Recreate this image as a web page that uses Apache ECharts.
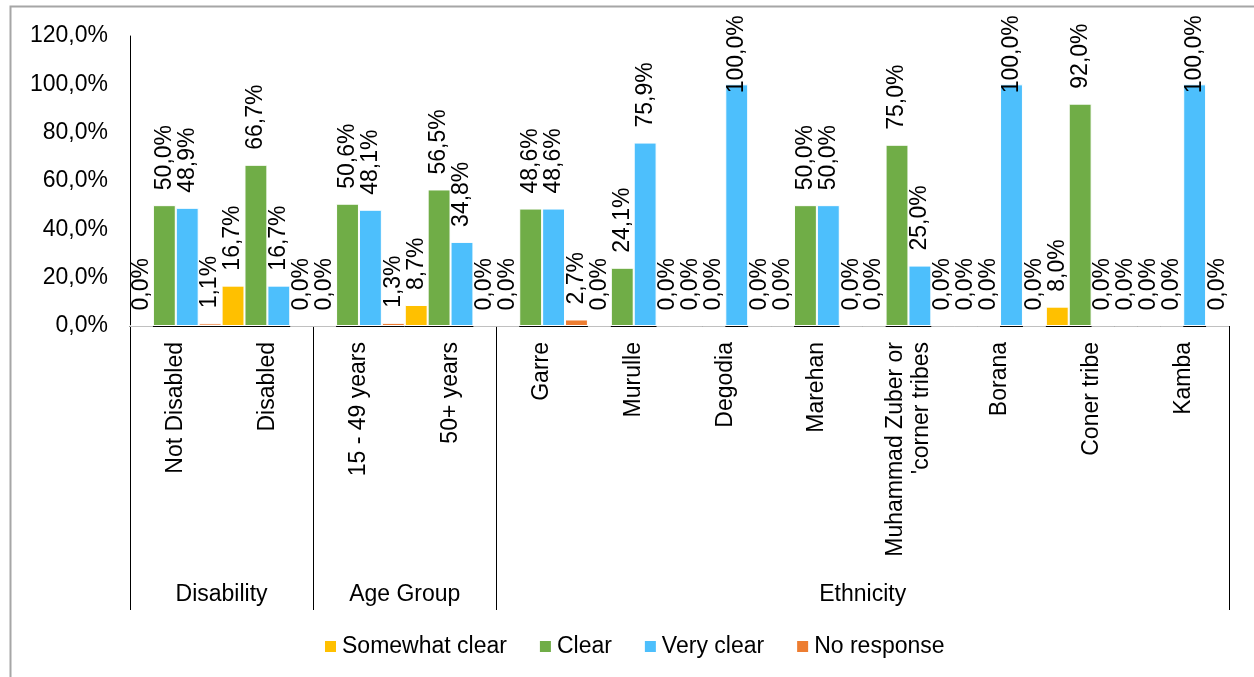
<!DOCTYPE html>
<html>
<head>
<meta charset="utf-8">
<script src="https://cdn.jsdelivr.net/npm/echarts@6/dist/echarts.min.js"></script>
<style>
    html, body { margin: 0; padding: 0; background: #fff; }
    #chart { width: 1254px; height: 677px; }
</style>
</head>
<body>
<div id="chart"></div>
<script>
// categories and their groups
var categories = ['Not Disabled', 'Disabled', '15 - 49 years', '50+ years', 'Garre', 'Murulle', 'Degodia',
    'Marehan', "Muhammad Zuber or\n'corner tribes", 'Borana', 'Coner tribe', 'Kamba'];
var groups = ['Disability', 'Age Group', 'Ethnicity'];
var groupSizes = [2, 2, 8];

var seriesNames = ['Somewhat clear', 'Clear', 'Very clear', 'No response'];
var somewhatClear = [0.0, 16.7, 0.0, 8.7, 0.0, 0.0, 0.0, 0.0, 0.0, 0.0, 8.0, 0.0];
var clear = [50.0, 66.7, 50.6, 56.5, 48.6, 24.1, 0.0, 50.0, 75.0, 0.0, 92.0, 0.0];
var veryClear = [48.9, 16.7, 48.1, 34.8, 48.6, 75.9, 100.0, 50.0, 25.0, 100.0, 0.0, 100.0];
var noResponse = [1.1, 0.0, 1.3, 0.0, 2.7, 0.0, 0.0, 0.0, 0.0, 0.0, 0.0, 0.0];

var yTicks = [0, 20, 40, 60, 80, 100, 120];

var colors = ['#FFC000', '#70AD47', '#4DBFFC', '#ED7D31'];
var font = 'Liberation Sans, Arial, sans-serif';

function pct(v) {
    return v.toFixed(1).replace('.', ',') + '%';
}

// group boundaries and centres in category units
var bounds = [0];
var centres = [];
groupSizes.forEach(function (n) {
    var start = bounds[bounds.length - 1];
    centres.push(start + n / 2);
    bounds.push(start + n);
});

function makeSeries(name, values) {
    return {
        name: name,
        type: 'bar',
        xAxisIndex: 0,
        barGap: 0,
        barCategoryGap: 0,
        itemStyle: { borderColor: '#fff', borderWidth: 1 },
        label: {
            show: true,
            position: 'top',
            rotate: 90,
            align: 'left',
            verticalAlign: 'middle',
            distance: 15,
            fontFamily: font,
            fontSize: 23,
            color: '#000',
            formatter: function (p) { return pct(p.value); }
        },
        data: values.map(function (v) {
            // labels that would leave the chart area get pushed down, like Excel does
            return v >= 99 ? { value: v, label: { distance: -9 } } : v;
        })
    };
}

var chart = echarts.init(document.getElementById('chart'));
var option = {
    animation: false,
    color: colors,
    graphic: [{
        type: 'rect',
        shape: { x: 10.5, y: 6.5, width: 1400, height: 900 },
        style: { fill: 'none', stroke: '#a6a6a6', lineWidth: 2 },
        silent: true
    }],
    legend: {
        left: 318,
        top: 630,
        itemWidth: 13,
        itemHeight: 13,
        itemGap: 31,
        icon: 'rect',
        textStyle: { fontFamily: font, fontSize: 23, color: '#000' },
        data: seriesNames
    },
    grid: { left: 130, top: 36, right: 25, bottom: 351 },
    xAxis: [{
        type: 'category',
        data: categories,
        position: 'bottom',
        axisLine: { onZero: false, lineStyle: { color: '#000', width: 1 } },
        axisTick: { show: false },
        axisLabel: {
            interval: 0,
            rotate: 90,
            margin: 16,
            fontFamily: font,
            fontSize: 23,
            lineHeight: 26,
            color: '#000'
        }
    }, {
        type: 'value',
        min: 0,
        max: categories.length,
        position: 'bottom',
        axisLine: { show: false, onZero: false },
        splitLine: { show: false },
        axisTick: {
            show: true,
            customValues: bounds,
            length: 284,
            inside: false,
            lineStyle: { color: '#000', width: 1 }
        },
        axisLabel: {
            customValues: centres,
            margin: 257,
            fontFamily: font,
            fontSize: 23,
            color: '#000',
            formatter: function (v) {
                var i = centres.indexOf(v);
                return i >= 0 ? groups[i] : '';
            }
        }
    }],
    yAxis: {
        type: 'value',
        min: yTicks[0],
        max: yTicks[yTicks.length - 1],
        interval: yTicks[1] - yTicks[0],
        axisLine: { show: true, lineStyle: { color: '#000', width: 1 } },
        axisTick: { show: false },
        splitLine: { show: false },
        axisLabel: {
            margin: 22,
            fontFamily: font,
            fontSize: 23,
            color: '#000',
            formatter: pct
        }
    },
    series: [
        makeSeries(seriesNames[0], somewhatClear),
        makeSeries(seriesNames[1], clear),
        makeSeries(seriesNames[2], veryClear),
        makeSeries(seriesNames[3], noResponse)
    ]
};
chart.setOption(option);
</script>
</body>
</html>
